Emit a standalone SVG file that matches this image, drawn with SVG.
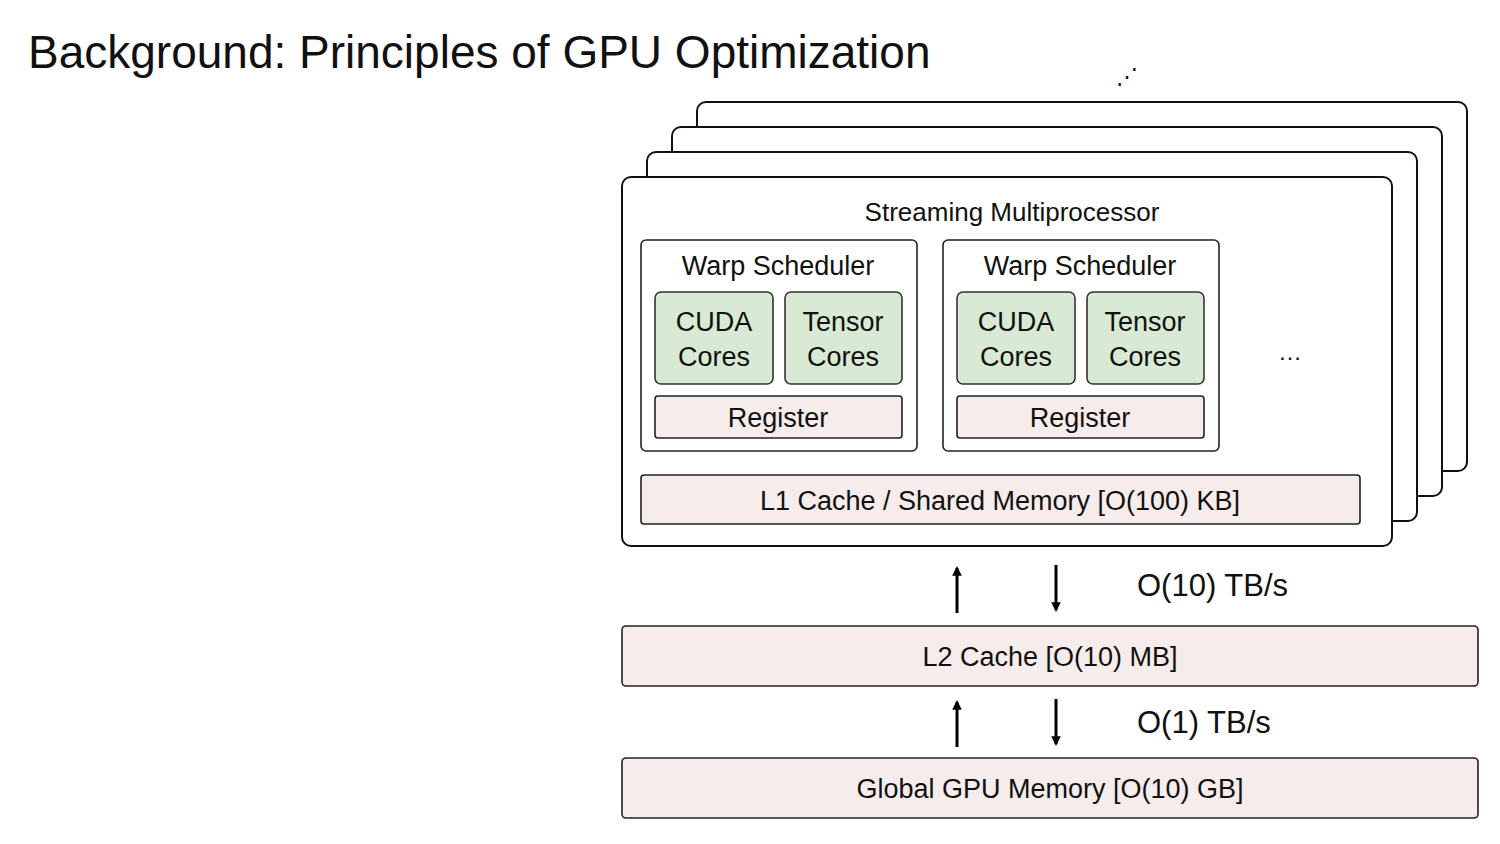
<svg xmlns="http://www.w3.org/2000/svg" width="1500" height="844" viewBox="0 0 1500 844">
<style>
text{font-family:"Helvetica Neue","Liberation Sans",Arial,sans-serif;fill:#111;font-weight:300}
.card{fill:#fff;stroke:#111;stroke-width:2}
.ws{fill:#fff;stroke:#222;stroke-width:1.6}
.core{fill:#d8ead3;stroke:#333;stroke-width:1.6}
.mem{fill:#f6eceb;stroke:#222;stroke-width:1.6}
.c{text-anchor:middle}
.arr{stroke:#000;stroke-width:3;fill:none}
</style>
<defs><marker id="ah" viewBox="0 0 10 10" refX="8" refY="5" markerWidth="3.2" markerHeight="3.2" orient="auto"><path d="M0,0L10,5L0,10z" fill="#000"/></marker></defs>
<rect width="1500" height="844" fill="#fff"/>
<text x="28" y="68" font-size="46">Background: Principles of GPU Optimization</text>
<text x="1127" y="84" font-size="22" class="c" font-family="DejaVu Sans">⋰</text>
<g id="sm-stack">
<rect class="card" x="697" y="102" width="770" height="369" rx="9"/>
<rect class="card" x="672" y="127" width="770" height="369" rx="9"/>
<rect class="card" x="647" y="152" width="770" height="369" rx="9"/>
</g>
<g id="sm">
<rect class="card" x="622" y="177" width="770" height="369" rx="9"/>
<text x="1012" y="221" font-size="26" class="c">Streaming Multiprocessor</text>
</g>
<g id="ws1">
<rect class="ws" x="641" y="240" width="276" height="211" rx="5"/>
<text x="778" y="275" font-size="27" class="c">Warp Scheduler</text>
<rect class="core" x="655" y="292" width="118" height="92" rx="6"/>
<text x="714" y="331" font-size="27" class="c">CUDA</text><text x="714" y="366" font-size="27" class="c">Cores</text>
<rect class="core" x="785" y="292" width="117" height="92" rx="6"/>
<text x="843" y="331" font-size="27" class="c">Tensor</text><text x="843" y="366" font-size="27" class="c">Cores</text>
<rect class="mem" x="655" y="396" width="247" height="42" rx="3"/>
<text x="778" y="427" font-size="27" class="c">Register</text>
</g>
<g id="ws2">
<rect class="ws" x="943" y="240" width="276" height="211" rx="5"/>
<text x="1080" y="275" font-size="27" class="c">Warp Scheduler</text>
<rect class="core" x="957" y="292" width="118" height="92" rx="6"/>
<text x="1016" y="331" font-size="27" class="c">CUDA</text><text x="1016" y="366" font-size="27" class="c">Cores</text>
<rect class="core" x="1087" y="292" width="117" height="92" rx="6"/>
<text x="1145" y="331" font-size="27" class="c">Tensor</text><text x="1145" y="366" font-size="27" class="c">Cores</text>
<rect class="mem" x="957" y="396" width="247" height="42" rx="3"/>
<text x="1080" y="427" font-size="27" class="c">Register</text>
</g>
<text x="1290" y="360" font-size="24" class="c">…</text>
<g id="l1">
<rect class="mem" x="641" y="475" width="719" height="49" rx="3"/>
<text x="1000" y="510" font-size="27" class="c">L1 Cache / Shared Memory [O(100) KB]</text>
</g>
<g id="l2">
<rect class="mem" x="622" y="626" width="856" height="60" rx="4"/>
<text x="1050" y="666" font-size="27" class="c">L2 Cache [O(10) MB]</text>
</g>
<g id="global">
<rect class="mem" x="622" y="758" width="856" height="60" rx="4"/>
<text x="1050" y="798" font-size="27" class="c">Global GPU Memory [O(10) GB]</text>
</g>
<g id="connectors">
<line class="arr" x1="957" y1="613" x2="957" y2="568" marker-end="url(#ah)"/>
<line class="arr" x1="1056" y1="565" x2="1056" y2="610" marker-end="url(#ah)"/>
<line class="arr" x1="957" y1="747" x2="957" y2="702" marker-end="url(#ah)"/>
<line class="arr" x1="1056" y1="699" x2="1056" y2="744" marker-end="url(#ah)"/>
</g>
<text x="1137" y="596" font-size="31">O(10) TB/s</text>
<text x="1137" y="733" font-size="31">O(1) TB/s</text>
</svg>
